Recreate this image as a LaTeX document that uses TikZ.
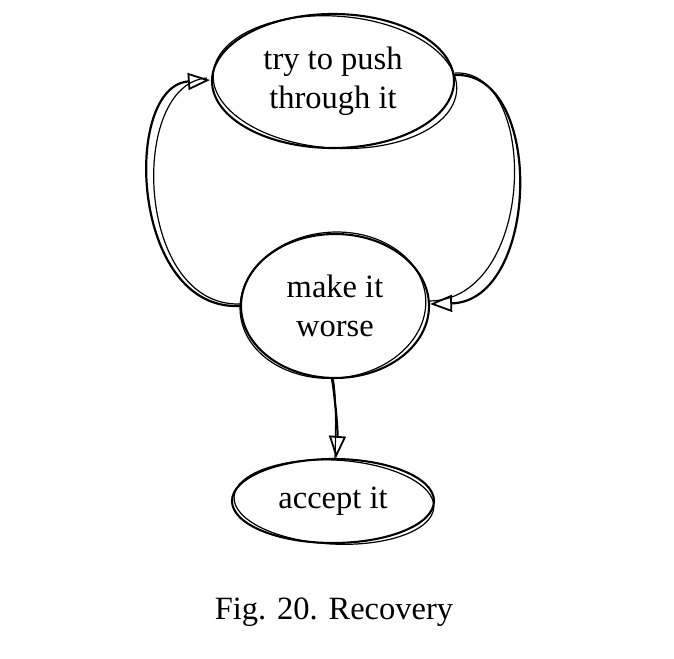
\documentclass[tikz,border=0pt]{standalone}
\usepackage{fontspec}
\setmainfont{Liberation Serif}
\usetikzlibrary{shapes.geometric,arrows.meta}
\begin{document}
\begin{tikzpicture}[x=1pt,y=1pt,
  blob/.style={ellipse,draw,line width=2.1pt,inner sep=0pt,align=center,
    font=\fontsize{32.5}{39}\selectfont},
  stroke2/.style={line width=1.2pt},
  conn/.style={line width=2.2pt,-{Triangle[open,length=22pt,width=17pt,line width=1.8pt]}},
  conn2/.style={line width=1.2pt}]
\useasboundingbox (0,0) rectangle (674,658);
% nodes
\node[blob,minimum width=242pt,minimum height=134pt] (e1) at (333,577) {try to push\\through it};
\node[blob,minimum width=188pt,minimum height=144pt] (e2) at (335,352) {make it\\worse};
\node[blob,minimum width=202pt,minimum height=84pt] (e3) at (333,157) {accept it};
\node[font=\fontsize{32.5}{38}\selectfont] (cap) at (334,46) {Fig. 20. Recovery};
% sketchy second strokes
\draw[stroke2,rotate around={-4:(e1.center)}] ([xshift=2pt,yshift=-1pt]e1.center) ellipse [x radius=122pt,y radius=66pt];
\draw[stroke2,rotate around={5:(e2.center)}] ([xshift=-2pt,yshift=1pt]e2.center) ellipse [x radius=93pt,y radius=73pt];
\draw[stroke2,rotate around={-3:(e3.center)}] ([xshift=1pt,yshift=-1pt]e3.center) ellipse [x radius=100pt,y radius=42pt];
% connectors
\draw[conn] (e2.west) .. controls (130,347) and (122,572) .. ([xshift=-1pt,yshift=1pt]e1.west);
\draw[conn2] ([yshift=2pt]e2.west) .. controls (135,351) and (128,574) .. ([xshift=-4pt,yshift=3pt]e1.west);
\draw[conn] ([yshift=6pt]e1.east) .. controls (545,587) and (540,357) .. ([yshift=2pt]e2.east);
\draw[conn2] ([yshift=8pt]e1.east) .. controls (540,589) and (536,359) .. ([yshift=5pt]e2.east);
\draw[conn] ([xshift=-3pt]e2.south) .. controls (334,269) and (338,229) .. ([xshift=3pt]e3.north);
\draw[conn2] ([xshift=-2pt]e2.south) .. controls (336,269) and (336,231) .. ([xshift=2pt]e3.north);
\end{tikzpicture}
\end{document}
